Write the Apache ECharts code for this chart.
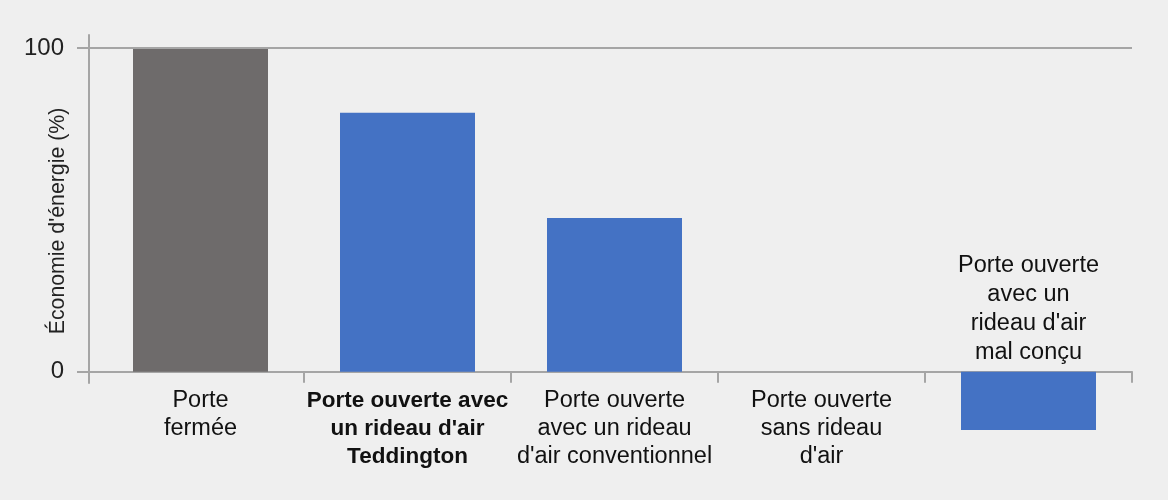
<!DOCTYPE html>
<html><head><meta charset="utf-8">
<script src="https://cdn.jsdelivr.net/npm/echarts@6/dist/echarts.min.js"></script>
<style>html,body{margin:0;padding:0;background:#efefef}#c{width:1168px;height:500px}</style>
</head><body><div id="c"></div>
<script>
const categories = ['Porte\nfermée', "Porte ouverte avec\nun rideau d'air\nTeddington", "Porte ouverte\navec un rideau\nd'air conventionnel", "Porte ouverte\nsans rideau\nd'air", ''];
const values = [100, 80, 47.5, 0, -18];
const barColors = ['#6e6b6b', '#4472c4', '#4472c4', '#4472c4', '#4472c4'];
const yTicks = [0, 100];
const negLabel = "Porte ouverte\navec un\nrideau d'air\nmal conçu";
const boldIndex = 1;
const yTitle = "Économie d'énergie (%)";

const negIndex = values.findIndex(v => v < 0);
const font = 'Liberation Sans, Arial, Helvetica, sans-serif';
const axisColor = '#a5a5a5';
const txt = '#111';

const chart = echarts.init(document.getElementById('c'));
chart.setOption({
  backgroundColor: '#efefef',
  animation: false,
  textStyle: { fontFamily: font },
  grid: { left: 97, right: 36, top: 35, bottom: 117 },
  xAxis: {
    type: 'category',
    data: categories,
    axisLine: { onZero: true, lineStyle: { color: axisColor, width: 2 } },
    axisTick: { show: true, length: 11, alignWithLabel: false, interval: (i) => i !== 0, lineStyle: { color: axisColor, width: 2 } },
    axisLabel: {
      interval: 0, margin: 4, color: txt, fontSize: 23.5, lineHeight: 28, fontFamily: font,
      formatter: (v, i) => i === boldIndex ? v.split('\n').map(l => '{b|' + l + '}').join('\n') : v,
      rich: { b: { fontWeight: 'bold', fontSize: 22.5, lineHeight: 28, color: txt, fontFamily: font } }
    }
  },
  yAxis: [{
    type: 'value',
    min: -3.5, max: 104,
    offset: 8,
    axisLine: { show: true, lineStyle: { color: axisColor, width: 2 } },
    axisTick: { show: true, inside: true, length: 9, customValues: yTicks, lineStyle: { color: axisColor, width: 2 } },
    axisLabel: { show: false },
    splitLine: { show: false }
  }, {
    type: 'value',
    position: 'left',
    min: -3.5, max: 104,
    offset: 8,
    axisLine: { show: false },
    axisTick: { show: true, length: 12, customValues: yTicks, lineStyle: { color: axisColor, width: 2 } },
    axisLabel: { customValues: yTicks, margin: 25, color: '#222', fontSize: 24, fontFamily: font },
    splitLine: { show: false }
  }],
  graphic: [{
    type: 'text',
    x: 58, y: 221, rotation: Math.PI / 2,
    style: { text: yTitle, fill: '#222', font: '21.3px ' + font, align: 'center', verticalAlign: 'middle' }
  }],
  series: [{
    type: 'bar',
    clip: false,
    barWidth: 135,
    data: values.map((v, i) => ({ value: v, itemStyle: { color: barColors[i] } })),
    markLine: {
      silent: true, symbol: 'none', label: { show: false },
      lineStyle: { color: axisColor, width: 2, type: 'solid' },
      data: [{ yAxis: yTicks[1] }]
    }
  }, {
    type: 'scatter',
    symbolSize: 0,
    itemStyle: { opacity: 1 },
    data: [[negIndex, 0]],
    label: { show: true, position: 'top', distance: 5, formatter: negLabel, color: txt, fontSize: 23.5, lineHeight: 29, fontFamily: font, align: 'center' }
  }]
});
</script></body></html>
